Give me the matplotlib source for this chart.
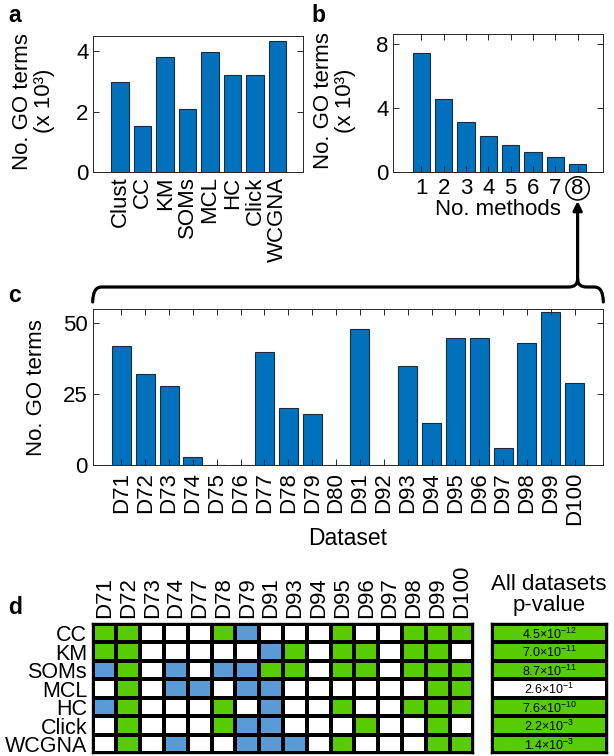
import numpy as np
import matplotlib
matplotlib.use('Agg')
import matplotlib.pyplot as plt
from matplotlib.colors import ListedColormap
from matplotlib.path import Path
from matplotlib.patches import PathPatch, FancyArrowPatch

plt.rcParams['font.family'] = ['Liberation Sans', 'DejaVu Sans']
plt.rcParams['mathtext.fontset'] = 'custom'
plt.rcParams['mathtext.rm'] = 'Liberation Sans'

# ---- data ----
# a: GO terms per method (x 10^3)
methods = ['Clust', 'CC', 'KM', 'SOMs', 'MCL', 'HC', 'Click', 'WCGNA']
go_terms_k = [2.99, 1.53, 3.79, 2.10, 3.95, 3.20, 3.20, 4.33]

# b: GO terms found by N methods (x 10^3)
n_methods = [1, 2, 3, 4, 5, 6, 7, 8]
go_shared_k = [7.44, 4.56, 3.15, 2.27, 1.69, 1.29, 0.96, 0.50]

# c: GO terms found by all 8 methods, per dataset
datasets = ['D71', 'D72', 'D73', 'D74', 'D75', 'D76', 'D77', 'D78', 'D79', 'D80',
            'D91', 'D92', 'D93', 'D94', 'D95', 'D96', 'D97', 'D98', 'D99', 'D100']
go_all8 = [42, 32, 28, 3, 0, 0, 40, 20, 18, 0, 48, 0, 35, 15, 45, 45, 6, 43, 54, 29]

# d: comparison grid (0 = none, 1 = green, 2 = blue)
grid_datasets = ['D71', 'D72', 'D73', 'D74', 'D77', 'D78', 'D79', 'D91',
                 'D93', 'D94', 'D95', 'D96', 'D97', 'D98', 'D99', 'D100']
grid_methods = ['CC', 'KM', 'SOMs', 'MCL', 'HC', 'Click', 'WCGNA']
grid_status = [
    [1, 1, 0, 0, 0, 1, 2, 0, 0, 0, 1, 0, 0, 1, 1, 1],
    [1, 1, 0, 0, 0, 0, 0, 2, 1, 0, 1, 1, 0, 1, 1, 0],
    [2, 1, 0, 2, 0, 2, 2, 1, 1, 0, 1, 1, 0, 1, 1, 1],
    [0, 1, 0, 2, 2, 0, 2, 2, 0, 0, 0, 0, 0, 0, 1, 1],
    [2, 1, 0, 0, 0, 1, 0, 2, 0, 0, 1, 0, 0, 1, 1, 1],
    [0, 1, 0, 0, 0, 1, 2, 2, 0, 0, 0, 1, 0, 0, 1, 0],
    [0, 1, 0, 2, 0, 0, 2, 2, 2, 0, 1, 0, 0, 0, 1, 1],
]
p_mantissa = [4.5, 7.0, 8.7, 2.6, 7.6, 2.2, 1.4]
p_exponent = [-12, -11, -11, -1, -10, -3, -3]
p_signif = [1, 1, 1, 0, 1, 1, 1]

BAR = '#0072BD'
BAR_EDGE = '#1c2b3a'
GREEN = '#58cc02'
BLUE = '#5b9bd5'
FS = 16
W, H = 614, 756

fig = plt.figure(figsize=(W / 100, H / 100), dpi=100)


def box(left, top, right, bottom):
    # pixel box -> figure fraction rect
    return [left / W, 1 - bottom / H, (right - left) / W, (bottom - top) / H]


def style_axes(ax):
    for s in ax.spines.values():
        s.set_color('#262626')
        s.set_linewidth(0.7)
    ax.tick_params(direction='in', length=4, width=0.7, color='#262626',
                   labelsize=FS, right=True)


# ---- panel a ----
ax_a = fig.add_axes(box(93.3, 35.7, 303.3, 172.3))
xa = np.arange(1, len(methods) + 1)
ax_a.bar(xa, go_terms_k, width=0.78, color=BAR, edgecolor=BAR_EDGE, linewidth=0.8)
ax_a.set_xlim(-0.2, 9.15)
ax_a.set_ylim(0, 4.5)
ax_a.set_yticks([0, 2, 4])
ax_a.set_xticks(xa)
ax_a.set_xticklabels(methods, rotation=90)
style_axes(ax_a)
ax_a.tick_params(axis='x', length=0, pad=3)
ax_a.text(-0.285, 0.52, 'No. GO terms\n(x 10³)', transform=ax_a.transAxes,
          rotation=90, ha='center', va='center', fontsize=FS, linespacing=1.05)
fig.text(8 / W, 1 - 15 / H, 'a', fontsize=16.5, fontweight='bold', va='center')

# ---- panel b ----
ax_b = fig.add_axes(box(393.3, 34.3, 603.3, 172.3))
ax_b.bar(n_methods, go_shared_k, width=0.78, color=BAR, edgecolor=BAR_EDGE, linewidth=0.8)
ax_b.set_xlim(-0.25, 9.15)
ax_b.set_ylim(0, 8.6)
ax_b.set_yticks([0, 4, 8])
ax_b.set_xticks(n_methods)
lbls = ax_b.set_xticklabels([str(n) for n in n_methods])
style_axes(ax_b)
ax_b.tick_params(axis='x', top=True, pad=4)
lbls[-1].set_bbox(dict(boxstyle='circle,pad=0.05', fc='none', ec='black', lw=1.1))
ax_b.set_xlabel('No. methods', fontsize=FS, labelpad=0)
ax_b.text(-0.28, 0.52, 'No. GO terms\n(x 10³)', transform=ax_b.transAxes,
          rotation=90, ha='center', va='center', fontsize=FS, linespacing=1.05)
fig.text(311 / W, 1 - 15 / H, 'b', fontsize=16.5, fontweight='bold', va='center')

# ---- panel c ----
ax_c = fig.add_axes(box(92.7, 309.3, 603.3, 465))
xc = np.arange(1, len(datasets) + 1)
ax_c.bar(xc, go_all8, width=0.8, color=BAR, edgecolor=BAR_EDGE, linewidth=0.8)
ax_c.set_xlim(-0.2, 21.2)
ax_c.set_ylim(0, 55)
ax_c.set_yticks([0, 25, 50])
ax_c.set_xticks(xc)
ax_c.set_xticklabels(datasets, rotation=90)
style_axes(ax_c)
ax_c.tick_params(axis='x', top=True, pad=5)
ax_c.set_xlabel('Dataset', fontsize=16.5, labelpad=1)
ax_c.text(-0.111, 0.5, 'No. GO terms', transform=ax_c.transAxes,
          rotation=90, ha='center', va='center', fontsize=FS)
fig.text(8 / W, 1 - 295 / H, 'c', fontsize=16.5, fontweight='bold', va='center')

# ---- brace + arrow linking b(8) to c ----
to_fig = fig.transFigure.inverted()
peak_x = to_fig.transform(ax_b.transData.transform((8, 0)))[0] * W
pc = ax_c.get_position()
lx, rx = pc.x0 * W, pc.x1 * W
yb = 287.0
yend = 302.0
ycusp = 279.0
verts = [
    (lx, yend), (lx, yb), (lx + 9, yb),
    (peak_x - 9, yb),
    (peak_x, yb), (peak_x, ycusp),
    (peak_x, yb), (peak_x + 9, yb),
    (rx - 9, yb),
    (rx, yb), (rx, yend),
]
codes = [Path.MOVETO, Path.CURVE3, Path.CURVE3, Path.LINETO,
         Path.CURVE3, Path.CURVE3, Path.CURVE3, Path.CURVE3,
         Path.LINETO, Path.CURVE3, Path.CURVE3]
verts_f = [(x / W, 1 - y / H) for x, y in verts]
fig.patches.append(PathPatch(Path(verts_f, codes), fill=False, lw=2.3,
                             color='black', transform=fig.transFigure,
                             capstyle='round', joinstyle='round'))
fig.patches.append(FancyArrowPatch((peak_x / W, 1 - ycusp / H), (peak_x / W, 1 - 201 / H),
                                   transform=fig.transFigure, arrowstyle='-|>',
                                   mutation_scale=13, lw=2.3, color='black',
                                   shrinkA=0, shrinkB=0))

# ---- panel d ----
ax_d = fig.add_axes(box(92.7, 624, 473.3, 753.3))
ax_d.pcolormesh(np.array(grid_status), cmap=ListedColormap(['white', GREEN, BLUE]),
                vmin=-0.5, vmax=2.5, edgecolors='black', linewidth=1.7)
ax_d.set_xlim(0, len(grid_datasets))
ax_d.set_ylim(len(grid_methods), 0)
ax_d.xaxis.tick_top()
ax_d.set_xticks(np.arange(len(grid_datasets)) + 0.5)
ax_d.set_xticklabels(grid_datasets, rotation=90, fontsize=FS)
ax_d.set_yticks(np.arange(len(grid_methods)) + 0.5)
ax_d.set_yticklabels(grid_methods, fontsize=15.5)
ax_d.tick_params(length=0, pad=4)
for s in ax_d.spines.values():
    s.set_linewidth(1.7)
fig.text(8 / W, 1 - 607 / H, 'd', fontsize=16.5, fontweight='bold', va='center')

ax_p = fig.add_axes(box(491.7, 624, 606.7, 753.3))
ax_p.pcolormesh(np.array(p_signif).reshape(-1, 1), cmap=ListedColormap(['white', GREEN]),
                vmin=-0.5, vmax=1.5, edgecolors='black', linewidth=1.7)
ax_p.set_xlim(0, 1)
ax_p.set_ylim(len(p_signif), 0)
ax_p.set_xticks([])
ax_p.set_yticks([])
for s in ax_p.spines.values():
    s.set_linewidth(1.7)
for i, (m, e) in enumerate(zip(p_mantissa, p_exponent)):
    ax_p.text(0.5, i + 0.55, f'{m:.1f}×10$^{{{e}}}$', ha='center', va='center', fontsize=9)
ax_p.text(0.5, 1.06, 'All datasets\np-value', transform=ax_p.transAxes,
          ha='center', va='bottom', fontsize=FS, linespacing=1.0)

fig.savefig('out.png', dpi=100)
